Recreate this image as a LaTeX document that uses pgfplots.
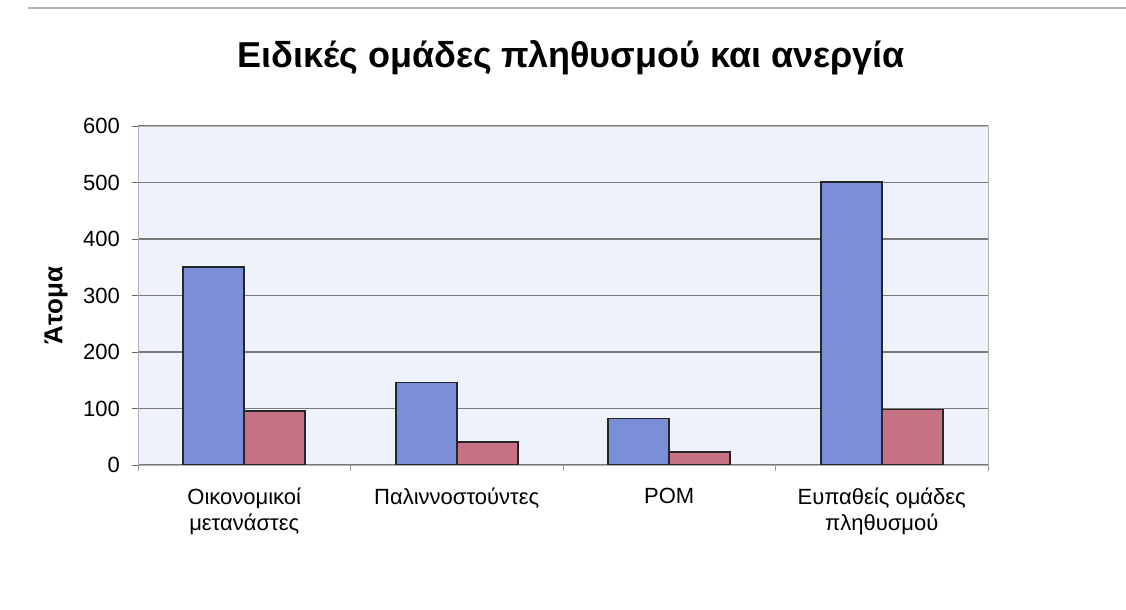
\documentclass[border=0pt]{standalone}
\usepackage{fontspec}
\setmainfont{Liberation Sans}
\usepackage{pgfplots}
\pgfplotsset{compat=1.18}
\definecolor{barblue}{RGB}{122,142,216}
\definecolor{barred}{RGB}{198,114,132}
\definecolor{plotbg}{RGB}{238,243,251}
\begin{document}
\begin{tikzpicture}
\path[use as bounding box] (0pt,0pt) rectangle (563pt,305pt);
\draw[gray!60, line width=0.8pt] (14pt,301pt) -- (563pt,301pt);
\begin{axis}[
  at={(69pt,72.5pt)}, anchor=south west,
  width=425pt, height=169.5pt, scale only axis,
  xmin=-0.5, xmax=3.5, ymin=0, ymax=600,
  ytick={0,100,200,300,400,500,600},
  xtick={0,1,2,3},
  xtick pos=bottom, ytick pos=left,
  xticklabels={{Οικονομικοί\\μετανάστες},{Παλιννοστούντες},{ΡΟΜ},{Ευπαθείς ομάδες\\πληθυσμού}},
  xticklabel style={align=center, font=\fontsize{11}{13}\selectfont, yshift=-5pt},
  yticklabel style={font=\fontsize{11}{13}\selectfont, xshift=-2.5pt},
  /pgf/number format/assume math mode=true,
  major x tick style={draw=none},
  extra x ticks={-0.5,0.5,1.5,2.5,3.5},
  extra x tick labels={},
  extra x tick style={xmajorgrids=false, major tick length=3pt, tick align=outside, xtick pos=bottom, major x tick style={draw=gray!80}},
  tick align=outside, major tick length=3pt,
  y tick style={gray!80!black},
  ymajorgrids, grid style={gray!95!black, line width=0.6pt},
  axis line style={gray!60},
  axis background/.style={fill=plotbg},
  ybar=0pt, bar width=30.5pt,
  title={Ειδικές ομάδες πληθυσμού και ανεργία},
  title style={font=\fontsize{18}{21}\bfseries\selectfont, at={(axis description cs:0.5,1)}, anchor=center, yshift=28pt, xshift=4pt},
  ylabel={Άτομα},
  ylabel style={font=\fontsize{13}{15}\bfseries\selectfont, at={(axis description cs:-0.0965,0.47)}, anchor=center},
]
\addplot[fill=barblue, draw=black!85, line width=0.8pt] coordinates {(0,350) (1,146) (2,82) (3,501)};
\addplot[fill=barred, draw=black!85, line width=0.8pt] coordinates {(0,96) (1,41) (2,23) (3,98)};
\end{axis}
\end{tikzpicture}
\end{document}
